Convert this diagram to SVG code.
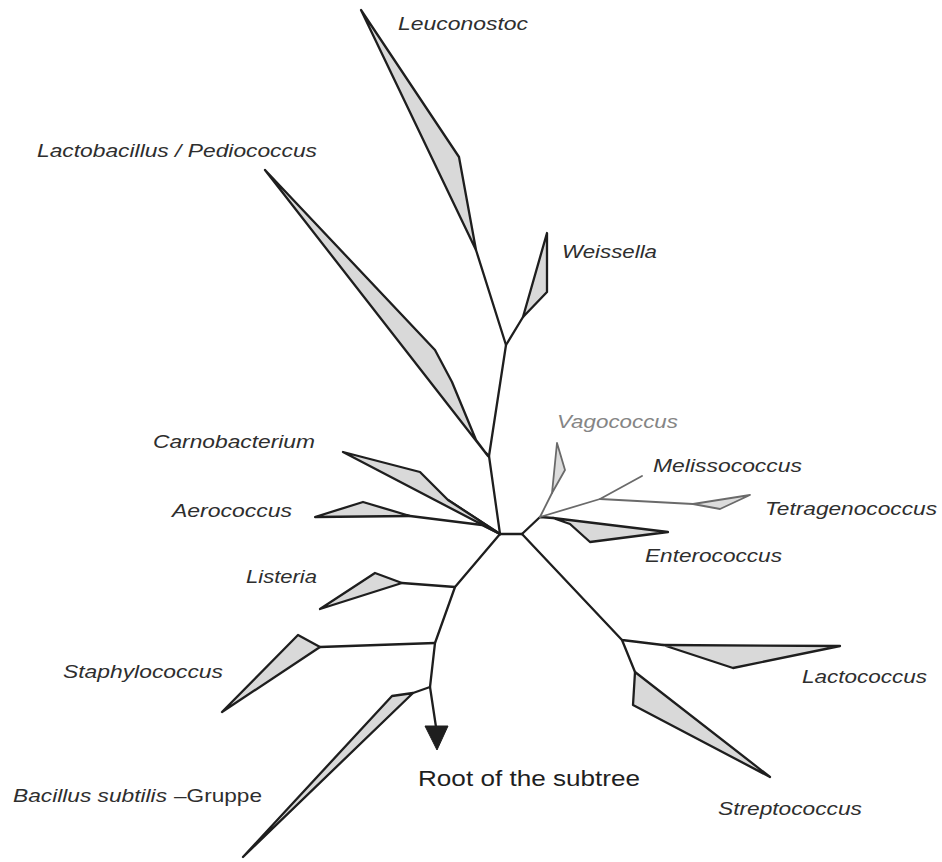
<svg xmlns="http://www.w3.org/2000/svg" width="942" height="862" viewBox="0 0 942 862">
<style>
.clade{fill:#d9d9d9;stroke:#1e1e1e;stroke-width:2.3;stroke-linejoin:round}
.cladeg{fill:#dcdcdc;stroke:#6a6a6a;stroke-width:1.8;stroke-linejoin:round}
.br{fill:none;stroke:#1e1e1e;stroke-width:2.3;stroke-linecap:round;stroke-linejoin:round}
.brg{fill:none;stroke:#6a6a6a;stroke-width:1.8;stroke-linecap:round;stroke-linejoin:round}
.lbl{font-family:"Liberation Sans",Arial,sans-serif;font-size:19px;font-style:italic;fill:#2e2e2e}
.root{font-family:"Liberation Sans",Arial,sans-serif;font-size:22px;fill:#1e1e1e}
</style>
<rect width="942" height="862" fill="#ffffff"/>
<g id="connectors">
<polyline class="br" points="500,534 522,534"/>
<polyline class="br" points="500,534 489,456 506,345 476,250"/>
<polyline class="br" points="506,345 523,317"/>
<polyline class="br" points="489,456 486,453"/>
<polyline class="br" points="500,534 448,500"/>
<polyline class="br" points="500,534 482,525 410,516"/>
<polyline class="br" points="500,534 455,587 435,643 430,687 436,727"/>
<polyline class="br" points="455,587 402,583"/>
<polyline class="br" points="435,643 320,647"/>
<polyline class="br" points="430,687 413,693"/>
<polyline class="br" points="522,534 622,640 663,645"/>
<polyline class="br" points="622,640 635,672"/>
<polyline class="br" points="522,534 540,517 553,518"/>
<polyline class="brg" points="540,517 552,493"/>
<polyline class="brg" points="540,517 600,499 642,476"/>
<polyline class="brg" points="600,499 693,504"/>
<polygon id="arrowhead" points="425,726 448,726 437,750" fill="#1e1e1e" stroke="#1e1e1e" stroke-width="1"/>
</g>
<g id="leuconostoc">
<polygon class="clade" points="361,10 459,157 476,250"/>
<text class="lbl" x="398" y="30" textLength="130" lengthAdjust="spacingAndGlyphs">Leuconostoc</text>
</g>
<g id="lactobacillus">
<polygon class="clade" points="265,170 435,350 452,382 476,440 488,456"/>
<text class="lbl" x="37" y="157" textLength="280" lengthAdjust="spacingAndGlyphs">Lactobacillus / Pediococcus</text>
</g>
<g id="weissella">
<polygon class="clade" points="523,317 547,233 547,292"/>
<text class="lbl" x="562" y="258" textLength="95" lengthAdjust="spacingAndGlyphs">Weissella</text>
</g>
<g id="carnobacterium">
<polygon class="clade" points="343,452 420,472 448,500 500,534"/>
<text class="lbl" x="153" y="448" textLength="162" lengthAdjust="spacingAndGlyphs">Carnobacterium</text>
</g>
<g id="aerococcus">
<polygon class="clade" points="315,517 363,502 410,516"/>
<text class="lbl" x="172" y="517" textLength="120" lengthAdjust="spacingAndGlyphs">Aerococcus</text>
</g>
<g id="listeria">
<polygon class="clade" points="402,583 375,573 320,609"/>
<text class="lbl" x="246" y="583" textLength="71" lengthAdjust="spacingAndGlyphs">Listeria</text>
</g>
<g id="staphylococcus">
<polygon class="clade" points="320,647 298,635 222,712"/>
<text class="lbl" x="63" y="678" textLength="160" lengthAdjust="spacingAndGlyphs">Staphylococcus</text>
</g>
<g id="bacillus">
<polygon class="clade" points="413,693 392,696 243,857"/>
<text class="lbl" y="802"><tspan x="13" textLength="154" lengthAdjust="spacingAndGlyphs">Bacillus subtilis</tspan><tspan x="174" font-style="normal" textLength="88" lengthAdjust="spacingAndGlyphs">–Gruppe</tspan></text>
</g>
<g id="vagococcus">
<polygon class="cladeg" points="552,493 557,443 565,470"/>
<text class="lbl" x="557" y="428" textLength="121" lengthAdjust="spacingAndGlyphs" style="fill:#858585">Vagococcus</text>
</g>
<g id="melissococcus">
<text class="lbl" x="653" y="472" textLength="149" lengthAdjust="spacingAndGlyphs">Melissococcus</text>
</g>
<g id="tetragenococcus">
<polygon class="cladeg" points="693,504 750,495 720,509"/>
<text class="lbl" x="765" y="515" textLength="172" lengthAdjust="spacingAndGlyphs">Tetragenococcus</text>
</g>
<g id="enterococcus">
<polygon class="clade" points="553,518 668,532 590,542 570,524"/>
<text class="lbl" x="645" y="562" textLength="137" lengthAdjust="spacingAndGlyphs">Enterococcus</text>
</g>
<g id="lactococcus">
<polygon class="clade" points="663,645 840,646 733,668"/>
<text class="lbl" x="802" y="683" textLength="125" lengthAdjust="spacingAndGlyphs">Lactococcus</text>
</g>
<g id="streptococcus">
<polygon class="clade" points="635,672 633,705 770,777"/>
<text class="lbl" x="718" y="815" textLength="144" lengthAdjust="spacingAndGlyphs">Streptococcus</text>
</g>
<g id="root">
<text class="root" x="418" y="786" textLength="222" lengthAdjust="spacingAndGlyphs">Root of the subtree</text>
</g>
</svg>
